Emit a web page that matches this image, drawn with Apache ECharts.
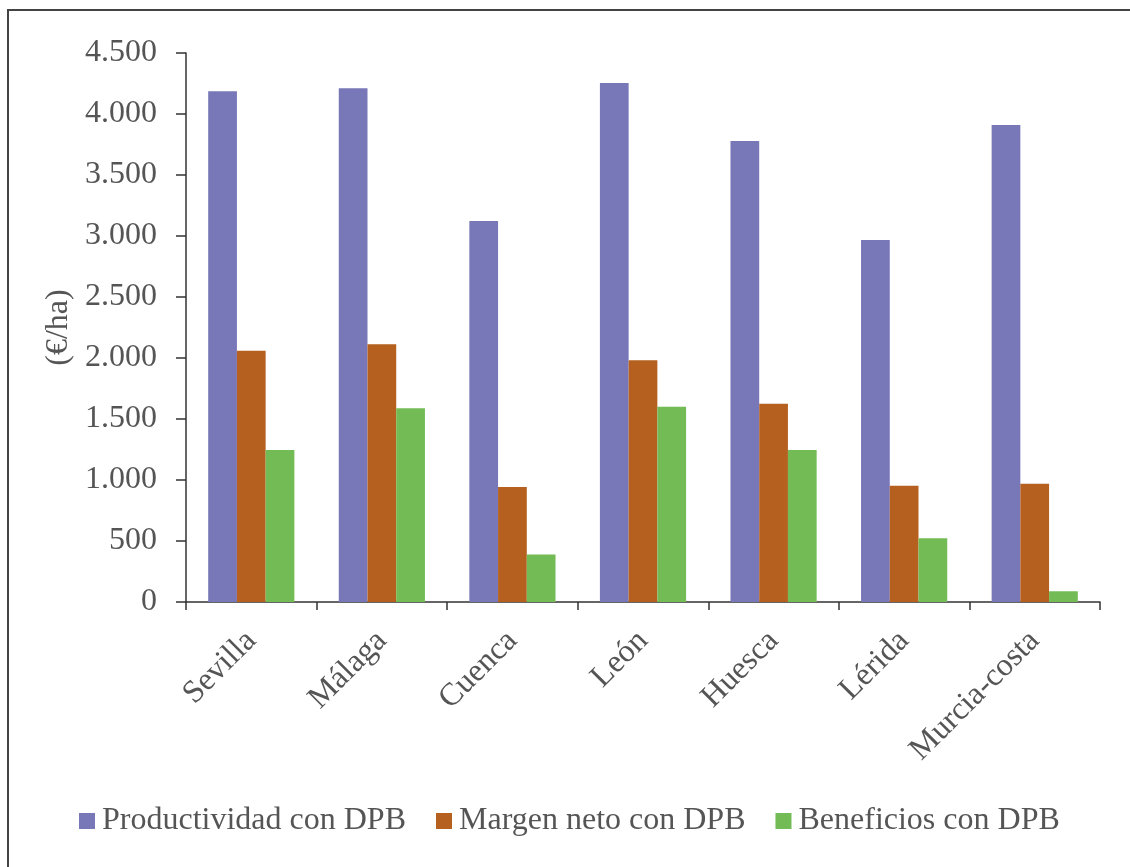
<!DOCTYPE html>
<html>
<head>
<meta charset="utf-8">
<script src="https://cdn.jsdelivr.net/npm/echarts@6/dist/echarts.min.js"></script>
<style>html,body{margin:0;padding:0;background:#fff}#c{width:1130px;height:867px}</style>
</head>
<body>
<div id="c"></div>
<script>
const categories = ['Sevilla', 'Málaga', 'Cuenca', 'León', 'Huesca', 'Lérida', 'Murcia-costa'];
const productividad = [4186, 4211, 3123, 4254, 3779, 2967, 3910];
const margenNeto = [2060, 2112, 943, 1981, 1626, 953, 970];
const beneficios = [1246, 1588, 390, 1601, 1246, 522, 88];
const seriesNames = ['Productividad con DPB', 'Margen neto con DPB', 'Beneficios con DPB'];
const yTicks = [0, 500, 1000, 1500, 2000, 2500, 3000, 3500, 4000, 4500];

const font = '"Liberation Serif", "Times New Roman", serif';
const textColor = '#555';
const colors = ['#7877b8', '#b5601f', '#72bb55'];

const chart = echarts.init(document.getElementById('c'), null, {renderer: 'canvas'});
const fmt = v => String(v).replace(/\B(?=(\d{3})+(?!\d))/g, '.');
chart.setOption({
  animation: false,
  backgroundColor: '#fff',
  graphic: [{
    type: 'rect', shape: {x: 8, y: 10, width: 1300, height: 1000},
    style: {fill: 'none', stroke: '#444', lineWidth: 2}, silent: true, z: 100
  }],
  grid: {left: 186, right: 30, top: 53, bottom: 265, containLabel: false},
  legend: {
    left: 74, top: 800,
    itemWidth: 16, itemHeight: 16, itemGap: 30,
    icon: 'rect',
    textStyle: {fontFamily: font, fontSize: 32, color: textColor, padding: [0, 0, 0, 2], lineHeight: 32},
    data: seriesNames
  },
  xAxis: {
    type: 'category',
    data: categories,
    axisLine: {lineStyle: {color: '#333', width: 1.5}},
    axisTick: {show: true, length: 8, alignWithLabel: false, lineStyle: {color: '#333', width: 1.5}},
    axisLabel: {rotate: 45, margin: 34, fontFamily: font, fontSize: 32, color: textColor}
  },
  yAxis: {
    type: 'value',
    min: 0, max: yTicks[yTicks.length - 1], interval: yTicks[1] - yTicks[0],
    name: '(€/ha)', nameLocation: 'middle', nameRotate: 90, nameGap: 110,
    nameTextStyle: {fontFamily: font, fontSize: 32, color: textColor},
    splitLine: {show: false},
    axisLine: {show: true, lineStyle: {color: '#333', width: 1.5}},
    axisTick: {show: true, length: 10, lineStyle: {color: '#333', width: 1.5}},
    axisLabel: {margin: 29, fontFamily: font, fontSize: 32, color: textColor, formatter: fmt}
  },
  series: [
    {name: seriesNames[0], type: 'bar', data: productividad, itemStyle: {color: colors[0]}, barGap: '0%', barCategoryGap: '34%'},
    {name: seriesNames[1], type: 'bar', data: margenNeto, itemStyle: {color: colors[1]}, barGap: '0%', barCategoryGap: '34%'},
    {name: seriesNames[2], type: 'bar', data: beneficios, itemStyle: {color: colors[2]}, barGap: '0%', barCategoryGap: '34%'}
  ]
});
</script>
</body>
</html>
